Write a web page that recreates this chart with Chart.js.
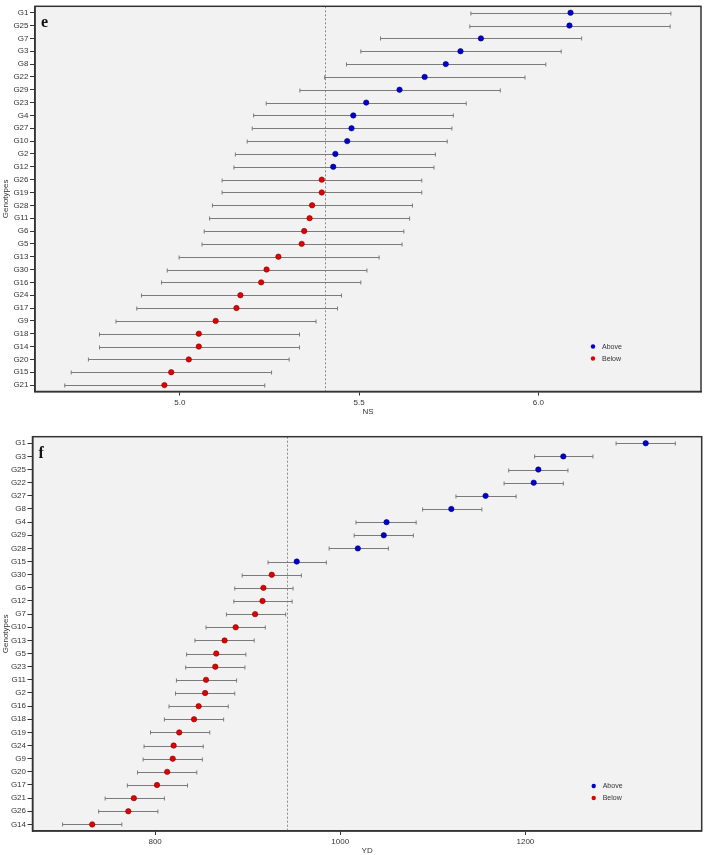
<!DOCTYPE html>
<html>
<head>
<meta charset="utf-8">
<script src="https://cdn.jsdelivr.net/npm/chart.js@4.4.0/dist/chart.umd.min.js"></script>
<style>
  body { margin: 0; background: #fff; }
  canvas { position: absolute; left: 0; }
  #chart_e { top: 0; }
  #chart_f { top: 425px; }
</style>
</head>
<body>
<canvas id="chart_e" width="708" height="420"></canvas>
<canvas id="chart_f" width="708" height="430"></canvas>
<script>
// panel e : NS
const nsGenotypes = ["G1","G25","G7","G3","G8","G22","G29","G23","G4","G27","G10","G2","G12","G26","G19",
  "G28","G11","G6","G5","G13","G30","G16","G24","G17","G9","G18","G14","G20","G15","G21"];
const nsValues = [6.090,6.087,5.840,5.783,5.742,5.683,5.613,5.520,5.484,5.479,5.467,5.434,5.428,5.396,5.396,
  5.369,5.362,5.347,5.340,5.275,5.242,5.227,5.169,5.158,5.100,5.053,5.053,5.025,4.976,4.957];
const nsLow = [5.812,5.809,5.560,5.505,5.465,5.404,5.335,5.241,5.206,5.202,5.188,5.155,5.151,5.118,5.118,
  5.091,5.083,5.068,5.062,4.998,4.965,4.949,4.893,4.880,4.822,4.776,4.776,4.745,4.697,4.679];
const nsHigh = [6.370,6.368,6.121,6.064,6.021,5.963,5.894,5.799,5.763,5.759,5.746,5.713,5.709,5.675,5.675,
  5.649,5.641,5.625,5.620,5.556,5.522,5.505,5.451,5.440,5.380,5.334,5.334,5.305,5.256,5.237];
const nsTicks = [5.0, 5.5, 6.0];
const nsRef = 5.404;

// panel f : YD
const ydGenotypes = ["G1","G3","G25","G22","G27","G8","G4","G29","G28","G15","G30","G6","G12","G7","G10",
  "G13","G5","G23","G11","G2","G16","G18","G19","G24","G9","G20","G17","G21","G26","G14"];
const ydValues = [1330,1241,1214,1209,1157,1120,1050,1047,1019,953,926,917,916,908,887,
  875,866,865,855,854,847,842,826,820,819,813,802,777,771,732];
const ydLow = [1298,1210,1182,1177,1125,1089,1017,1015,988,922,894,886,885,877,855,
  843,834,833,823,822,815,810,795,788,787,781,770,746,739,700];
const ydHigh = [1362,1273,1246,1241,1190,1153,1082,1079,1052,985,958,949,948,941,919,
  907,898,897,888,886,879,874,859,852,851,845,835,810,803,764];
const ydTicks = [800, 1000, 1200];
const ydRef = 942;

const aboveColor = "rgb(0,0,204)";
const belowColor = "rgb(228,0,0)";
const font = "'Liberation Sans', Arial, sans-serif";

// background, error bars, mean line, frame, panel letter and legend
function panelPlugin(low, high, ref, letter) {
  return {
    id: "panel_" + letter,
    beforeDraw(chart) {
      const a = chart.chartArea, ctx = chart.ctx;
      ctx.save();
      ctx.fillStyle = "#f2f2f2";
      ctx.fillRect(a.left, a.top, a.right - a.left, a.bottom - a.top);
      ctx.restore();
    },
    beforeDatasetsDraw(chart) {
      const a = chart.chartArea, ctx = chart.ctx;
      const xs = chart.scales.x, ys = chart.scales.y;
      ctx.save();
      // dotted mean line
      const xr = Math.round(xs.getPixelForValue(ref)) + 0.5;
      ctx.strokeStyle = "#8a8a8a";
      ctx.lineWidth = 1;
      ctx.setLineDash([2, 2]);
      ctx.beginPath();
      ctx.moveTo(xr, a.top);
      ctx.lineTo(xr, a.bottom);
      ctx.stroke();
      ctx.setLineDash([]);
      // error bars
      ctx.strokeStyle = "#7a7a7a";
      for (let i = 0; i < low.length; i++) {
        const y = Math.round(ys.getPixelForValue(i)) + 0.5;
        const x1 = xs.getPixelForValue(low[i]);
        const x2 = xs.getPixelForValue(high[i]);
        ctx.beginPath();
        ctx.moveTo(x1, y); ctx.lineTo(x2, y);
        ctx.moveTo(x1, y - 2); ctx.lineTo(x1, y + 2);
        ctx.moveTo(x2, y - 2); ctx.lineTo(x2, y + 2);
        ctx.stroke();
      }
      ctx.restore();
    },
    afterDraw(chart) {
      const a = chart.chartArea, ctx = chart.ctx;
      ctx.save();
      ctx.strokeStyle = "#333";
      ctx.lineWidth = 1.5;
      ctx.strokeRect(a.left, a.top, a.right - a.left, a.bottom - a.top);
      ctx.fillStyle = "#111";
      ctx.font = "bold 16px 'Liberation Serif', 'Times New Roman', serif";
      ctx.textBaseline = "alphabetic";
      ctx.fillText(letter, a.left + 6, a.top + 21);
      // legend
      ctx.font = "7px " + font;
      ctx.textBaseline = "middle";
      chart.data.datasets.forEach((ds, k) => {
        const ly = a.bottom - 45 + k * 12;
        ctx.fillStyle = ds.backgroundColor;
        ctx.beginPath();
        ctx.arc(a.right - 108, ly, 2.2, 0, Math.PI * 2);
        ctx.fill();
        ctx.fillStyle = "#333";
        ctx.fillText(ds.label, a.right - 99, ly + 0.5);
      });
      ctx.restore();
    }
  };
}

function makePanel(id, genotypes, values, low, high, ticks, ref, cfg) {
  const above = [], below = [];
  values.forEach((v, i) => {
    (v > ref ? above : below).push({ x: v, y: genotypes[i] });
  });
  const ctx = document.getElementById(id);
  return new Chart(ctx, {
    type: "scatter",
    data: {
      datasets: [
        { label: "Above", data: above, backgroundColor: aboveColor, borderColor: "rgb(0,0,120)",
          borderWidth: 0.6, pointRadius: 2.7 },
        { label: "Below", data: below, backgroundColor: belowColor, borderColor: "rgb(130,0,0)",
          borderWidth: 0.6, pointRadius: 2.7 },
      ],
    },
    options: {
      responsive: false,
      animation: false,
      events: [],
      layout: { padding: { top: cfg.top, right: cfg.right, left: 0, bottom: 0 } },
      plugins: { legend: { display: false }, tooltip: { enabled: false } },
      scales: {
        x: {
          type: "linear",
          min: cfg.min,
          max: cfg.max,
          afterBuildTicks: (s) => { s.ticks = ticks.map((v) => ({ value: v })); },
          afterFit: (s) => { s.height = cfg.xHeight; },
          ticks: { font: { family: font, size: 8 }, color: "#333", padding: 2,
            callback: cfg.fmt, maxRotation: 0 },
          grid: { drawOnChartArea: false, drawTicks: true, tickLength: 4, tickColor: "#333" },
          border: { display: true, color: "#333", width: 1.5 },
          title: { display: true, text: cfg.title, color: "#333",
            font: { family: font, size: 8, lineHeight: 1 }, padding: { top: 0, bottom: cfg.titlePad } },
        },
        y: {
          type: "category",
          labels: genotypes,
          offset: true,
          afterFit: (s) => { s.width = cfg.yWidth; },
          ticks: { font: { family: font, size: 8 }, color: "#333", padding: 1.5, autoSkip: false },
          grid: { drawOnChartArea: false, drawTicks: true, tickLength: 5, tickColor: "#333" },
          border: { display: true, color: "#333", width: 1.5 },
          title: { display: true, text: "Genotypes", color: "#333",
            font: { family: font, size: 8, lineHeight: 1 }, padding: { top: 2, bottom: 0 } },
        },
      },
    },
    plugins: [panelPlugin(low, high, ref, cfg.letter)],
  });
}

makePanel("chart_e", nsGenotypes, nsValues, nsLow, nsHigh, nsTicks, nsRef, {
  letter: "e", title: "NS", min: 4.596, max: 6.454, top: 1, right: 7,
  xHeight: 28.5, yWidth: 35, titlePad: 4, fmt: (v) => v.toFixed(1),
});

makePanel("chart_f", ydGenotypes, ydValues, ydLow, ydHigh, ydTicks, ydRef, {
  letter: "f", title: "YD", min: 667.5, max: 1390.5, top: 11.7, right: 6.3,
  xHeight: 24, yWidth: 32.5, titlePad: 0, fmt: (v) => String(v),
});
</script>
</body>
</html>
